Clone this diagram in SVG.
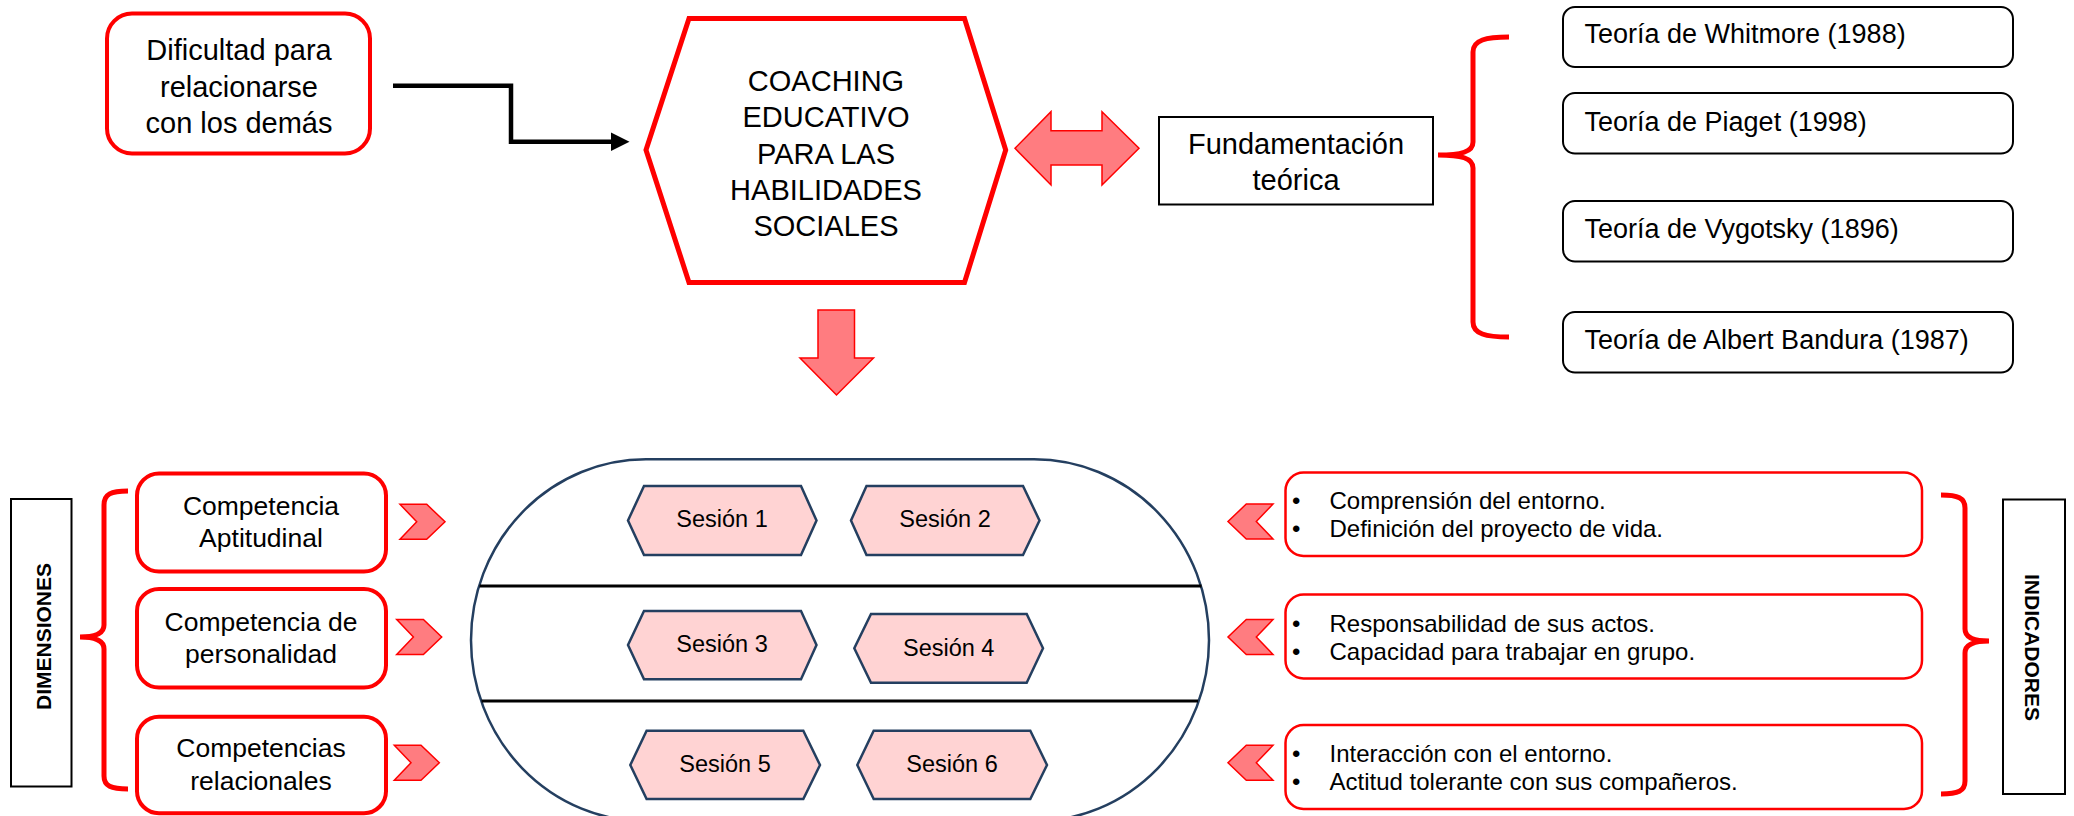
<svg xmlns="http://www.w3.org/2000/svg" width="2074" height="816" viewBox="0 0 2074 816">
<style>
text{font-family:"Liberation Sans",Arial,sans-serif;fill:#000}
.c{text-anchor:middle}
.redbox{fill:#fff;stroke:#ff0000;stroke-width:4}
.indbox{fill:#fff;stroke:#ff0000;stroke-width:2.5}
.blkbox{fill:#fff;stroke:#000;stroke-width:2}
.brace{fill:none;stroke:#ff0000;stroke-width:5}
.fat{fill:#ff7c80;stroke:#ff0000;stroke-width:1.5}
.ses{fill:#ffd3d3;stroke:#243f60;stroke-width:2.5}
.f29{font-size:29px}
.f27{font-size:27px}
.f265{font-size:26.5px}
.f24{font-size:24px}
.f235{font-size:23.5px}
.lbl{font-size:21px;font-weight:bold}
</style>
<defs>
<path id="chev" d="M0,0 L26.7,0 L45,17.5 L26.7,35 L0,35 L16.7,17.5 Z"/>
</defs>
<rect width="2074" height="816" fill="#fff"/>

<g id="connectors">
<path d="M393,85.7 L511,85.7 L511,141.7 L612,141.7" fill="none" stroke="#000" stroke-width="4.5"/>
<path d="M611,132.5 L629.5,141.7 L611,151 Z" fill="#000"/>
<path class="fat" d="M1015,148.3 L1051,111.7 L1051,130.7 L1102,130.7 L1102,111.7 L1139,148.3 L1102,185 L1102,165 L1051,165 L1051,185 Z"/>
<path class="fat" d="M818,310 L854.5,310 L854.5,358 L873.5,358 L836.5,395 L800,358 L818,358 Z"/>
<use href="#chev" class="fat" transform="translate(400,504.3)"/>
<use href="#chev" class="fat" transform="translate(396.7,619.5)"/>
<use href="#chev" class="fat" transform="translate(394.3,745.3)"/>
<use href="#chev" class="fat" transform="translate(1273,504) scale(-1,1)"/>
<use href="#chev" class="fat" transform="translate(1273,619.5) scale(-1,1)"/>
<use href="#chev" class="fat" transform="translate(1273,745.3) scale(-1,1)"/>
<path class="brace" d="M1509,37 C1486,37 1473,40 1473,52 L1473,142 C1473,152 1461,155 1438,155 C1461,155 1473,158 1473,168 L1473,322 C1473,334 1486,337 1509,337"/>
<path class="brace" d="M128,491 C111,491 104,494 104,505 L104,625 C104,633 96,637 80,637 C96,637 104,641 104,649 L104,776 C104,786 111,789 128,789"/>
<path class="brace" d="M1941,495 C1958,495 1965,498 1965,508 L1965,629 C1965,637 1973,641 1989,641 C1973,641 1965,645 1965,653 L1965,781 C1965,791 1958,794 1941,794"/>
</g>

<g id="n-dificultad">
<rect class="redbox" x="107" y="13.5" width="263" height="140" rx="25" ry="25"/>
<text class="c f29" x="239" y="60">Dificultad para</text>
<text class="c f29" x="239" y="96.5">relacionarse</text>
<text class="c f29" x="239" y="132.7">con los demás</text>
</g>

<g id="n-coaching">
<path d="M689,18.5 L964.5,18.5 L1005.7,150 L964.5,282.5 L689,282.5 L646,150 Z" fill="#fff" stroke="#ff0000" stroke-width="5"/>
<text class="c f29" x="826" y="90.7">COACHING</text>
<text class="c f29" x="826" y="127.3">EDUCATIVO</text>
<text class="c f29" x="826" y="164">PARA LAS</text>
<text class="c f29" x="826" y="200">HABILIDADES</text>
<text class="c f29" x="826" y="236.3">SOCIALES</text>
</g>

<g id="n-fundamentacion">
<rect class="blkbox" x="1159" y="117" width="274" height="87.5"/>
<text class="c f29" x="1296" y="154">Fundamentación</text>
<text class="c f29" x="1296" y="190">teórica</text>
</g>

<g id="n-whitmore">
<rect class="blkbox" x="1563" y="7" width="450" height="60" rx="12"/>
<text class="f27" x="1584.5" y="43.3">Teoría de Whitmore (1988)</text>
</g>
<g id="n-piaget">
<rect class="blkbox" x="1563" y="93" width="450" height="60.5" rx="12"/>
<text class="f27" x="1584.5" y="130.7">Teoría de Piaget (1998)</text>
</g>
<g id="n-vygotsky">
<rect class="blkbox" x="1563" y="201" width="450" height="60.5" rx="12"/>
<text class="f27" x="1584.5" y="238.3">Teoría de Vygotsky (1896)</text>
</g>
<g id="n-bandura">
<rect class="blkbox" x="1563" y="312" width="450" height="60.5" rx="12"/>
<text class="f27" x="1584.5" y="349.3">Teoría de Albert Bandura (1987)</text>
</g>

<g id="n-dimensiones">
<rect class="blkbox" x="11" y="499" width="60.5" height="287.5"/>
<text class="c lbl" transform="translate(51,636.5) rotate(-90)">DIMENSIONES</text>
</g>

<g id="n-comp1">
<rect class="redbox" x="137" y="473.5" width="249" height="98" rx="22"/>
<text class="c f265" x="261" y="515">Competencia</text>
<text class="c f265" x="261" y="547.3">Aptitudinal</text>
</g>
<g id="n-comp2">
<rect class="redbox" x="137" y="589" width="249" height="98.5" rx="22"/>
<text class="c f265" x="261" y="630.7">Competencia de</text>
<text class="c f265" x="261" y="662.7">personalidad</text>
</g>
<g id="n-comp3">
<rect class="redbox" x="137" y="716.7" width="249" height="96.5" rx="22"/>
<text class="c f265" x="261" y="757.3">Competencias</text>
<text class="c f265" x="261" y="790">relacionales</text>
</g>

<g id="n-sesiones">
<rect x="471" y="459.3" width="738" height="362" rx="175" ry="181" fill="#fff" stroke="#243f60" stroke-width="2.5"/>
<line x1="479.5" y1="586" x2="1201.5" y2="586" stroke="#000" stroke-width="3"/>
<line x1="481.5" y1="701" x2="1198" y2="701" stroke="#000" stroke-width="3"/>
</g>
<g id="n-s1">
<path class="ses" d="M644,486 L801,486 L816.5,520.5 L801,555 L644,555 L628,520.5 Z"/>
<text class="c f235" x="722" y="527.3">Sesión 1</text>
</g>
<g id="n-s2">
<path class="ses" d="M866.5,486 L1023,486 L1039.5,520.5 L1023,555 L866.5,555 L851,520.5 Z"/>
<text class="c f235" x="945" y="527.3">Sesión 2</text>
</g>
<g id="n-s3">
<path class="ses" d="M644,611 L801,611 L816.5,645 L801,679.3 L644,679.3 L628,645 Z"/>
<text class="c f235" x="722" y="652.3">Sesión 3</text>
</g>
<g id="n-s4">
<path class="ses" d="M871,614 L1026.7,614 L1043,648.3 L1026.7,682.7 L871,682.7 L854.3,648.3 Z"/>
<text class="c f235" x="948.7" y="655.5">Sesión 4</text>
</g>
<g id="n-s5">
<path class="ses" d="M646.6,730.7 L803.3,730.7 L820,765 L803.3,799 L646.6,799 L630.3,765 Z"/>
<text class="c f235" x="725" y="771.5">Sesión 5</text>
</g>
<g id="n-s6">
<path class="ses" d="M873.7,730.7 L1030.3,730.7 L1047,765 L1030.3,799 L873.7,799 L857.3,765 Z"/>
<text class="c f235" x="952" y="771.5">Sesión 6</text>
</g>

<g id="n-ind1">
<rect class="indbox" x="1285.5" y="472.5" width="636.5" height="83.5" rx="18"/>
<text class="f24" x="1292" y="509">•</text>
<text class="f24" x="1329.5" y="509">Comprensión del entorno.</text>
<text class="f24" x="1292" y="537.3">•</text>
<text class="f24" x="1329.5" y="537.3">Definición del proyecto de vida.</text>
</g>
<g id="n-ind2">
<rect class="indbox" x="1285.5" y="594.5" width="636.5" height="84" rx="18"/>
<text class="f24" x="1292" y="632.3">•</text>
<text class="f24" x="1329.5" y="632.3">Responsabilidad de sus actos.</text>
<text class="f24" x="1292" y="659.5">•</text>
<text class="f24" x="1329.5" y="659.5">Capacidad para trabajar en grupo.</text>
</g>
<g id="n-ind3">
<rect class="indbox" x="1285.5" y="725" width="636.5" height="84" rx="18"/>
<text class="f24" x="1292" y="762">•</text>
<text class="f24" x="1329.5" y="762">Interacción con el entorno.</text>
<text class="f24" x="1292" y="790">•</text>
<text class="f24" x="1329.5" y="790">Actitud tolerante con sus compañeros.</text>
</g>

<g id="n-indicadores">
<rect class="blkbox" x="2003" y="499.5" width="62" height="294.5"/>
<text class="c lbl" transform="translate(2025,647.5) rotate(90)">INDICADORES</text>
</g>
</svg>
